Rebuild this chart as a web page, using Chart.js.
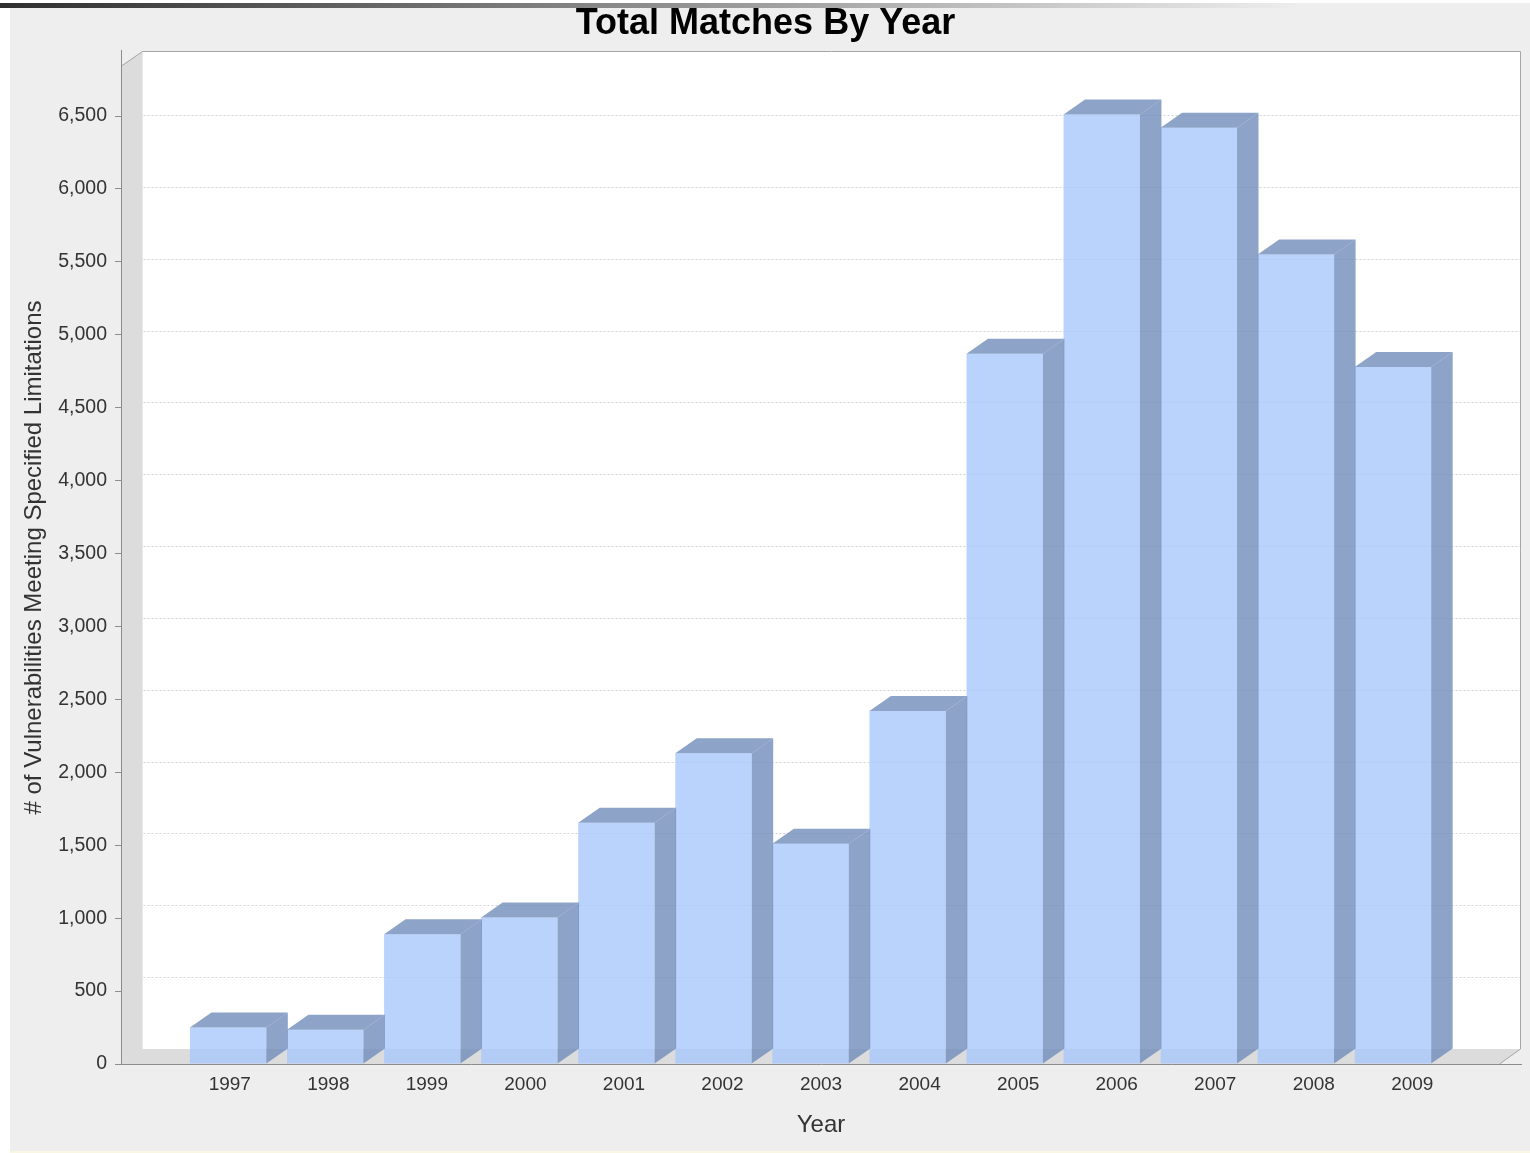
<!DOCTYPE html>
<html>
<head>
<meta charset="utf-8">
<title>Total Matches By Year</title>
<script src="https://cdn.jsdelivr.net/npm/chart.js@4.4.0/dist/chart.umd.min.js"></script>
<style>
  html, body { margin: 0; padding: 0; background: #ffffff; overflow: hidden; }
  #wrap { position: absolute; left: 0; top: 0; width: 1530px; height: 1153px; }
  canvas { display: block; }
</style>
</head>
<body>
<div id="wrap"><canvas id="chart" width="1530" height="1153"></canvas></div>
<script>
// Categories and values
const years = ['1997', '1998', '1999', '2000', '2001', '2002', '2003',
               '2004', '2005', '2006', '2007', '2008', '2009'];
const matches = [250, 235, 890, 1005, 1655, 2130, 1510, 2420, 4870, 6510, 6420, 5550, 4780];
const valueTicks = [0, 500, 1000, 1500, 2000, 2500, 3000, 3500, 4000, 4500, 5000, 5500, 6000, 6500];

const FONT = '"Liberation Sans", Arial, Helvetica, sans-serif';
const DX = 21.5;   // depth offset to the right
const DY = 15;     // depth offset upwards
const FRONT = 'rgba(168,200,251,0.8)';
const SHADE = 'rgba(112,140,185,0.8)';
const WALL = '#dcdcdc';
const OUTLINE = '#a6a6a6';
const AXIS = '#8c8c8c';

// Background, 3D walls and back-wall gridlines
const wallsPlugin = {
  id: 'walls',
  beforeDraw(chart) {
    const ctx = chart.ctx;
    const { left, right, top, bottom } = chart.chartArea;
    const W = chart.width, H = chart.height;
    ctx.save();
    ctx.fillStyle = '#ffffff';
    ctx.fillRect(0, 0, W, H);
    ctx.fillStyle = '#eeeeee';
    ctx.fillRect(10, 8, W - 10, H - 10);
    ctx.fillStyle = '#faf6e4';
    ctx.fillRect(10, H - 2, W - 10, 2);

    const backL = left + DX, backB = bottom - DY;
    // back wall
    ctx.fillStyle = '#ffffff';
    ctx.fillRect(backL, top, right - backL, backB - top);
    // left wall
    ctx.fillStyle = WALL;
    ctx.beginPath();
    ctx.moveTo(left, bottom);
    ctx.lineTo(left, top + DY);
    ctx.lineTo(backL, top);
    ctx.lineTo(backL, backB);
    ctx.closePath();
    ctx.fill();
    // floor
    ctx.beginPath();
    ctx.moveTo(left, bottom);
    ctx.lineTo(backL, backB);
    ctx.lineTo(right, backB);
    ctx.lineTo(right - DX, bottom);
    ctx.closePath();
    ctx.fill();

    // gridlines on the back wall
    const ys = chart.scales.y;
    ctx.strokeStyle = '#d2d2d2';
    ctx.lineWidth = 1;
    ctx.setLineDash([2, 2]);
    valueTicks.forEach(v => {
      if (v === 0) return;
      const py = ys.getPixelForValue(v);
      const gy = Math.round(top + (py - top) * (backB - top) / (bottom - top)) + 0.5;
      ctx.beginPath();
      ctx.moveTo(backL + 1, gy);
      ctx.lineTo(right - 1, gy);
      ctx.stroke();
    });
    ctx.setLineDash([]);

    // plot outline
    ctx.strokeStyle = OUTLINE;
    ctx.beginPath();
    ctx.moveTo(left + 0.5, top + DY);
    ctx.lineTo(backL, top + 0.5);
    ctx.lineTo(right - 0.5, top + 0.5);
    ctx.lineTo(right - 0.5, backB);
    ctx.lineTo(right - DX, bottom);
    ctx.stroke();
    ctx.restore();
  },
  afterDraw(chart) {
    const ctx = chart.ctx;
    ctx.save();
    ctx.fillStyle = '#ffffff';
    ctx.fillRect(0, 0, chart.width, 3);
    const g = ctx.createLinearGradient(0, 0, 1300, 0);
    g.addColorStop(0, '#2e2e2e');
    g.addColorStop(1, '#eeeeee');
    ctx.fillStyle = g;
    ctx.fillRect(0, 3, chart.width, 5);
    ctx.restore();
  }
};

// Top and side faces of each bar
const depthPlugin = {
  id: 'depth',
  afterDatasetsDraw(chart) {
    const ctx = chart.ctx;
    const meta = chart.getDatasetMeta(0);
    ctx.save();
    ctx.fillStyle = SHADE;
    meta.data.forEach(bar => {
      const { x, y, base, width } = bar.getProps(['x', 'y', 'base', 'width'], true);
      const l = x - width / 2, r = x + width / 2;
      // top face
      ctx.beginPath();
      ctx.moveTo(l, y);
      ctx.lineTo(l + DX, y - DY);
      ctx.lineTo(r + DX, y - DY);
      ctx.lineTo(r, y);
      ctx.closePath();
      ctx.fill();
      // side face
      ctx.beginPath();
      ctx.moveTo(r, y);
      ctx.lineTo(r + DX, y - DY);
      ctx.lineTo(r + DX, base - DY);
      ctx.lineTo(r, base);
      ctx.closePath();
      ctx.fill();
    });
    ctx.restore();
  }
};

new Chart(document.getElementById('chart'), {
  type: 'bar',
  data: {
    datasets: [{
      label: 'Total Matches',
      data: matches.map((v, i) => ({ x: i, y: v })),
      backgroundColor: FRONT,
      borderWidth: 0,
      barPercentage: 0.787,
      categoryPercentage: 1,
      xAxisID: 'x',
      yAxisID: 'y'
    }]
  },
  plugins: [wallsPlugin, depthPlugin],
  options: {
    responsive: false,
    animation: false,
    devicePixelRatio: 1,
    locale: 'en-US',
    layout: { padding: { left: 10, right: 9, top: 0, bottom: 0 } },
    plugins: {
      legend: { display: false },
      tooltip: { enabled: false },
      title: {
        display: true,
        text: 'Total Matches By Year',
        color: '#000000',
        font: { family: FONT, size: 36, weight: 'bold', lineHeight: 1.2 },
        padding: { top: 2, bottom: 5.8 }
      }
    },
    scales: {
      x: {
        type: 'linear',
        display: false,
        offset: false,
        grid: { offset: false },
        min: -1.1037,
        max: 13.319
      },
      xl: {
        type: 'linear',
        position: 'bottom',
        offset: false,
        min: -1.1038,
        max: 13.103,
        afterBuildTicks: s => { s.ticks = years.map((_, i) => ({ value: i })); },
        afterFit: s => { s.height = 89; },
        ticks: {
          callback: v => years[v],
          color: '#333333',
          font: { family: FONT, size: 19 },
          padding: 9,
          maxRotation: 0,
          autoSkip: false
        },
        grid: { display: false, drawTicks: false, offset: false },
        border: { display: true, color: AXIS, z: 1 },
        title: {
          display: true,
          text: 'Year',
          color: '#333333',
          font: { family: FONT, size: 24, lineHeight: 1.2 },
          padding: { top: 0, bottom: 13.6 }
        }
      },
      y: {
        type: 'linear',
        position: 'left',
        min: 0,
        max: 6946,
        afterBuildTicks: s => { s.ticks = valueTicks.map(v => ({ value: v })); },
        afterFit: s => { s.width = 111; },
        ticks: {
          callback: v => v.toLocaleString('en-US'),
          color: '#333333',
          font: { family: FONT, size: 19.5 },
          padding: 8
        },
        grid: { drawOnChartArea: false, drawTicks: true, tickLength: 6, color: AXIS },
        border: { display: true, color: AXIS },
        title: {
          display: true,
          text: '# of Vulnerabilities Meeting Specified Limitations',
          color: '#333333',
          font: { family: FONT, size: 24, lineHeight: 1.2 },
          padding: { top: 9.6, bottom: 0 }
        }
      }
    }
  }
});
</script>
</body>
</html>
